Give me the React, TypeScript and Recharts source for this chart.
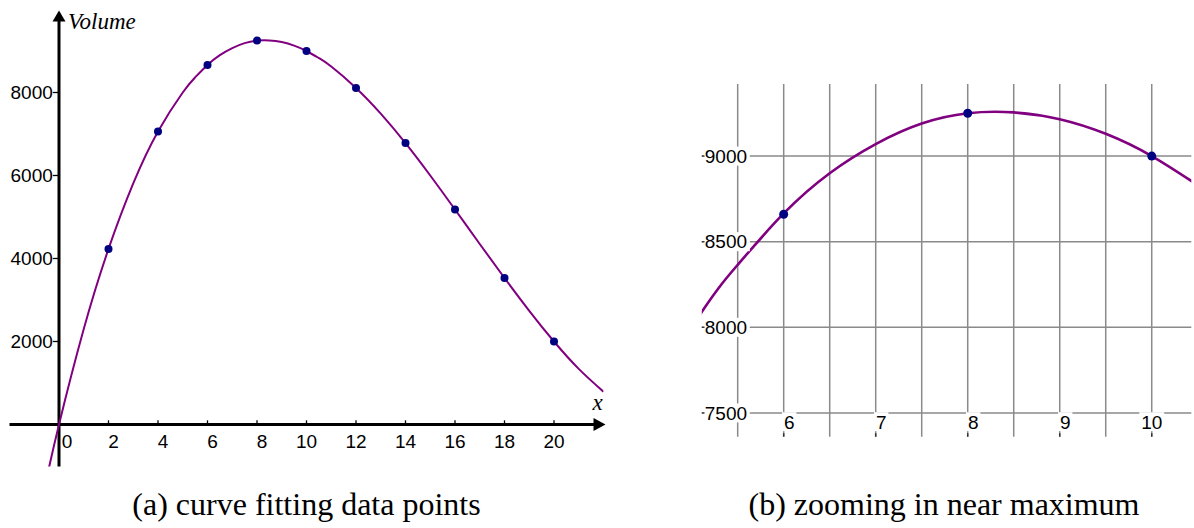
import React from 'react';
import { ComposedChart, Line, Scatter, XAxis, YAxis, ReferenceLine } from 'recharts';

// data points (x, volume)
const pointX = [2, 4, 6, 8, 10, 12, 14, 16, 18, 20];
const pointVolume = [4230, 7060, 8660, 9250, 9000, 8110, 6780, 5180, 3530, 2000];

// fitted curve
const curveX = [-0.5, 0, 1, 2, 3, 4, 5, 5.5, 6, 6.5, 7, 7.5, 8, 8.5, 9, 9.5, 10, 10.5, 11, 12, 13, 14, 15, 16, 17, 18, 19, 20, 21, 22];
const curveVolume = [-1300, 0, 2300, 4230, 5810, 7060, 8000, 8365, 8665, 8900, 9070, 9190, 9250, 9255, 9215, 9130, 9000, 8830, 8625, 8110, 7490, 6780, 6000, 5180, 4350, 3530, 2740, 2000, 1340, 790];

const leftXTicks = [0, 2, 4, 6, 8, 10, 12, 14, 16, 18, 20];
const leftYTicks = [2000, 4000, 6000, 8000];
const leftXDomain = [-2, 22];
const leftYDomain = [-1010, 9930];

const zoomXTicks = [6, 7, 8, 9, 10];
const zoomGridX = [5.5, 6, 6.5, 7, 7.5, 8, 8.5, 9, 9.5, 10];
const zoomYTicks = [7500, 8000, 8500, 9000];
const zoomXDomain = [5.11, 10.43];
const zoomYDomain = [7361, 9421];

const points = pointX.map((x, i) => ({ x, y: pointVolume[i] }));
const curve = curveX.map((x, i) => ({ x, y: curveVolume[i] }));

const SANS = '"Liberation Sans", Arial, sans-serif';
const SERIF = '"Liberation Serif", "Times New Roman", serif';
const TICK_FS = 19;

const HAxis = (p: any) => {
  const xa = Math.min(p.x1, p.x2);
  const xb = Math.max(p.x1, p.x2);
  const y = p.y1;
  return (
    <g>
      <line x1={xa} y1={y} x2={xb - 6} y2={y} stroke="#000" strokeWidth={3} />
      <polygon points={`${xb + 2},${y} ${xb - 10},${y - 6.5} ${xb - 10},${y + 6.5}`} fill="#000" />
      <text x={xb - 6} y={y - 14} fontFamily={SERIF} fontStyle="italic" fontSize={23} textAnchor="middle">x</text>
    </g>
  );
};

const VAxis = (p: any) => {
  const ya = Math.min(p.y1, p.y2);
  const yb = Math.max(p.y1, p.y2);
  const x = p.x1;
  return (
    <g>
      <line x1={x} y1={ya + 6} x2={x} y2={yb} stroke="#000" strokeWidth={3} />
      <polygon points={`${x},${ya - 2} ${x - 6.5},${ya + 9} ${x + 6.5},${ya + 9}`} fill="#000" />
      <text x={x + 9} y={ya + 17} fontFamily={SERIF} fontStyle="italic" fontSize={23}>Volume</text>
    </g>
  );
};

const leftXTick = (label: number) => (p: any) => {
  const x = p.x1;
  const yb = Math.max(p.y1, p.y2);
  const s = String(label);
  const dx = label === 0 ? 8 : s.length === 1 ? 5 : 0;
  return (
    <g>
      <line x1={p.x1} y1={p.y1} x2={p.x2} y2={p.y2} stroke="#000" strokeWidth={1.3} />
      <text x={x + dx} y={yb + 23.5} fontFamily={SANS} fontSize={TICK_FS} textAnchor="middle">{s}</text>
    </g>
  );
};

const leftYTick = (label: number) => (p: any) => {
  const xa = Math.min(p.x1, p.x2);
  return (
    <g>
      <line x1={p.x1} y1={p.y1} x2={p.x2} y2={p.y2} stroke="#000" strokeWidth={1.3} />
      <text x={xa} y={p.y1 + 6.8} fontFamily={SANS} fontSize={TICK_FS} textAnchor="end">{label}</text>
    </g>
  );
};

const zoomXTick = (label: number) => (p: any) => {
  const x = p.x1;
  const yb = Math.max(p.y1, p.y2);
  const s = String(label);
  const dx = s.length === 1 ? 5.5 : 0;
  const w = s.length * 10.5 + 4;
  const cy = yb - 15;
  return (
    <g>
      <rect x={x + dx - w / 2} y={cy - 9.5} width={w} height={19} fill="#fff" />
      <line x1={p.x1} y1={p.y1} x2={p.x2} y2={p.y2} stroke="#333" strokeWidth={1.5} />
      <text x={x + dx} y={cy + 6.8} fontFamily={SANS} fontSize={TICK_FS} textAnchor="middle">{s}</text>
    </g>
  );
};

const zoomYTick = (label: number) => (p: any) => {
  const xa = Math.min(p.x1, p.x2);
  const y = p.y1;
  return (
    <g>
      <rect x={xa + 2} y={y - 9.5} width={46} height={19} fill="#fff" />
      <line x1={p.x1} y1={p.y1} x2={p.x2} y2={p.y2} stroke="#333" strokeWidth={1.3} />
      <text x={xa + 3} y={y + 6.8} fontFamily={SANS} fontSize={TICK_FS}>{label}</text>
    </g>
  );
};

const Dot = (p: any) => <circle cx={p.cx} cy={p.cy} r={p.r ?? 4} fill="#000080" />;

const LeftChart = () => (
  <ComposedChart width={620} height={480} margin={{ top: 12.4, right: 16.5, bottom: 13.6, left: 9.5 }}>
    <XAxis type="number" dataKey="x" domain={leftXDomain} allowDataOverflow hide />
    <YAxis type="number" dataKey="y" domain={leftYDomain} allowDataOverflow hide />
    <ReferenceLine y={0} shape={HAxis} />
    <ReferenceLine x={0} shape={VAxis} />
    {leftXTicks.map((t) => (
      <ReferenceLine key={'xt' + t} segment={[{ x: t, y: 0 }, { x: t, y: 100 }]} shape={leftXTick(t)} />
    ))}
    {leftYTicks.map((t) => (
      <ReferenceLine key={'yt' + t} segment={[{ x: -0.25, y: t }, { x: 0, y: t }]} shape={leftYTick(t)} />
    ))}
    <Line data={curve} dataKey="y" type="natural" stroke="#800080" strokeWidth={2} dot={false} isAnimationActive={false} />
    <Scatter data={points} fill="#000080" shape={(p: any) => <Dot {...p} r={4} />} isAnimationActive={false} />
  </ComposedChart>
);

const ZoomChart = () => (
  <ComposedChart width={504} height={380} margin={{ top: 14, right: 2.7, bottom: 13.3, left: 11.8 }}>
    <XAxis type="number" dataKey="x" domain={zoomXDomain} allowDataOverflow hide />
    <YAxis type="number" dataKey="y" domain={zoomYDomain} allowDataOverflow hide />
    {zoomGridX.map((g) => (
      <ReferenceLine key={'gx' + g} x={g} stroke="#8a8a8a" strokeWidth={1.5} />
    ))}
    {zoomYTicks.map((g) => (
      <ReferenceLine key={'gy' + g} y={g} stroke="#8a8a8a" strokeWidth={1.5} />
    ))}
    <Line data={curve} dataKey="y" type="natural" stroke="#800080" strokeWidth={2.6} dot={false} isAnimationActive={false} />
    <Scatter data={points} fill="#000080" shape={(p: any) => <Dot {...p} r={4.5} />} isAnimationActive={false} />
    {zoomXTicks.map((t) => (
      <ReferenceLine key={'zx' + t} segment={[{ x: t, y: zoomYDomain[0] }, { x: t, y: zoomYDomain[0] + 20 }]} shape={zoomXTick(t)} />
    ))}
    {zoomYTicks.map((t) => (
      <ReferenceLine key={'zy' + t} segment={[{ x: zoomXDomain[0], y: t }, { x: zoomXDomain[0] + 0.03, y: t }]} shape={zoomYTick(t)} />
    ))}
  </ComposedChart>
);

export default function App() {
  return (
    <div style={{ position: 'absolute', left: 0, top: 0, width: 1194, height: 528, background: '#fff', overflow: 'hidden' }}>
      <div style={{ position: 'absolute', left: 0, top: 0 }}>
        <LeftChart />
      </div>
      <div style={{ position: 'absolute', left: 690, top: 70 }}>
        <ZoomChart />
      </div>
      <svg width={1194} height={528} style={{ position: 'absolute', left: 0, top: 0, pointerEvents: 'none' }}>
        <text x={306.5} y={515} fontFamily={SERIF} fontSize={32} textAnchor="middle">(a) curve fitting data points</text>
        <text x={944} y={515} fontFamily={SERIF} fontSize={32} textAnchor="middle">(b) zooming in near maximum</text>
      </svg>
    </div>
  );
}
